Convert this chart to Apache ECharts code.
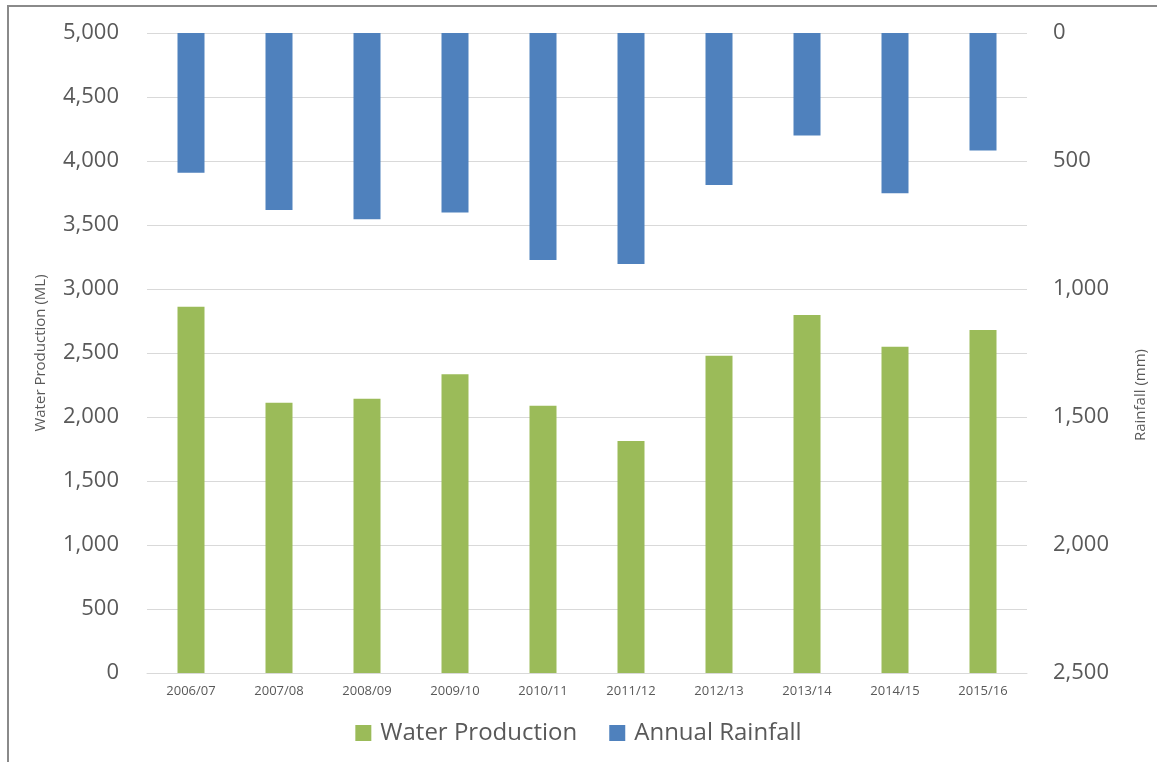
<!DOCTYPE html>
<html>
<head>
<meta charset="utf-8">
<script src="https://cdn.jsdelivr.net/npm/echarts@6/dist/echarts.min.js"></script>
<style>
  html, body { margin: 0; padding: 0; background: #fff; }
  #frame { position: absolute; left: 7px; top: 5px; width: 1160px; height: 800px;
           border-top: 2px solid #8a8a8a; border-left: 2px solid #8a8a8a; }
  #chart { position: absolute; left: 0; top: 0; width: 1157px; height: 762px; }
</style>
</head>
<body>
<div id="frame"></div>
<div id="chart"></div>
<script>
// financial years
var years = ['2006/07', '2007/08', '2008/09', '2009/10', '2010/11',
             '2011/12', '2012/13', '2013/14', '2014/15', '2015/16'];
// water production, ML (left axis)
var production = [2862, 2112, 2143, 2334, 2088, 1813, 2479, 2797, 2549, 2680];
// annual rainfall, mm (right axis, drawn downward)
var rainfall = [546, 691, 728, 701, 887, 902, 594, 400, 626, 459];

var FONT = '"Open Sans", "Liberation Sans", sans-serif';
var fmt = function (v) { return v.toLocaleString('en-US'); };

var chart = echarts.init(document.getElementById('chart'));
chart.setOption({
    animation: false,
    textStyle: { fontFamily: FONT },
    grid: { left: 147, right: 130, top: 33, bottom: 89 },
    legend: {
        bottom: 12,
        left: 'center',
        itemWidth: 16,
        itemHeight: 16,
        itemGap: 32,
        icon: 'rect',
        textStyle: { fontSize: 24, color: '#595959', fontFamily: FONT, padding: [0, 0, 0, 4] },
        data: ['Water Production', 'Annual Rainfall']
    },
    xAxis: {
        type: 'category',
        data: years,
        axisLine: { lineStyle: { color: '#d9d9d9' } },
        axisTick: { show: false },
        axisLabel: { color: '#595959', fontSize: 13, margin: 12, fontFamily: FONT }
    },
    yAxis: [{
        type: 'value',
        min: 0, max: 5000, interval: 500,
        name: 'Water Production (ML)',
        nameLocation: 'middle',
        nameGap: 99,
        nameRotate: 90,
        nameTextStyle: { color: '#595959', fontSize: 15 },
        axisLabel: { color: '#595959', fontSize: 22, margin: 28, formatter: fmt },
        axisLine: { show: false },
        axisTick: { show: false },
        splitLine: { lineStyle: { color: '#d9d9d9' } }
    }, {
        type: 'value',
        min: 0, max: 2500, interval: 500,
        inverse: true,
        position: 'right',
        name: 'Rainfall (mm)',
        nameLocation: 'middle',
        nameGap: 106,
        nameRotate: 90,
        nameTextStyle: { color: '#595959', fontSize: 15, padding: [0, 84, 0, 0] },
        axisLabel: { color: '#595959', fontSize: 22, margin: 26, formatter: fmt },
        axisLine: { show: false },
        axisTick: { show: false },
        splitLine: { show: false }
    }],
    series: [{
        name: 'Water Production',
        type: 'bar',
        yAxisIndex: 0,
        barWidth: 27,
        barGap: '-100%',
        itemStyle: { color: '#9bbb59' },
        data: production
    }, {
        name: 'Annual Rainfall',
        type: 'bar',
        yAxisIndex: 1,
        barWidth: 27,
        barGap: '-100%',
        itemStyle: { color: '#4f81bd' },
        data: rainfall
    }]
});
</script>
</body>
</html>
